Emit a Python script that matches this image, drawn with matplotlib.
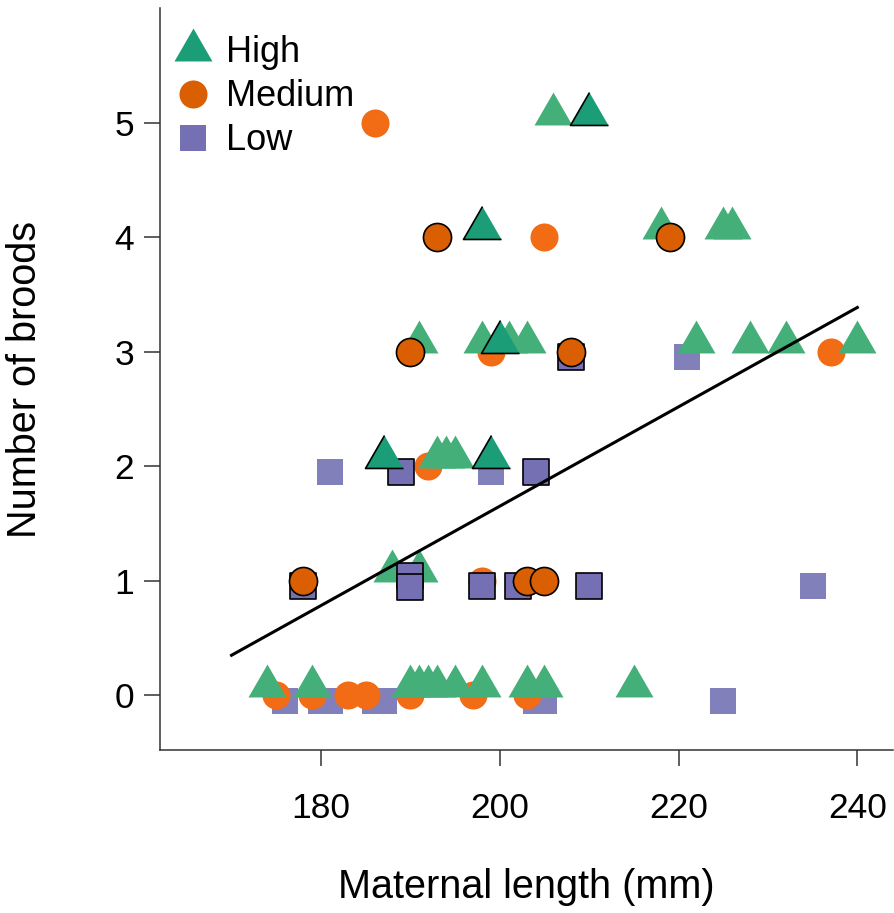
import numpy as np
import matplotlib
matplotlib.use("Agg")
import matplotlib.pyplot as plt
from matplotlib.lines import Line2D

plt.rcParams['font.family'] = ['Liberation Sans', 'DejaVu Sans']

# raw (faded) points: maternal length, number of broods (as plotted, with nudge)
high_x = [174, 179, 190, 191, 192, 193, 195, 198, 203, 205, 215,
          188, 191,
          193, 194, 195,
          191, 198, 201, 203, 222, 228, 232, 240,
          218, 225, 226,
          206]
high_y = [0.08] * 11 + [1.08] * 2 + [2.08] * 3 + [3.08] * 8 + [4.08] * 3 + [5.08]

med_x = [175, 179, 183, 185, 190, 197, 203,
         198,
         192,
         199, 237,
         205,
         186]
med_y = [0] * 7 + [1] + [2] + [3] * 2 + [4] + [5]

low_x = [176, 180, 181, 186, 187, 204, 205, 225,
         235,
         181, 199,
         221]
low_y = [-0.05] * 8 + [0.95] + [1.95] * 2 + [2.95]

# highlighted (outlined) points
high_x2 = [187, 199, 200, 198, 210]
high_y2 = [2.08, 2.08, 3.08, 4.08, 5.08]

med_x2 = [178, 203, 205, 190, 208, 193, 219]
med_y2 = [1, 1, 1, 3, 3, 4, 4]

low_x2 = [178, 190, 190, 198, 202, 210, 189, 204, 208]
low_y2 = [0.95, 1.04, 0.94, 0.95, 0.95, 0.95, 1.95, 1.95, 2.95]

# fitted line
fit_x = [170, 240]
fit_coef = [0.0434, -7.03]   # slope, intercept

groups = ["High", "Medium", "Low"]
dark = {"High": "#1B9E77", "Medium": "#D95F02", "Low": "#7570B3"}
light = {"High": "#44AF78", "Medium": "#F26B15", "Low": "#8280BB"}

tri = [(0, 1), (-0.866, -0.5), (0.866, -0.5)]
markers = {"High": tri, "Medium": "o", "Low": "s"}
msize = {"High": 31.6, "Medium": 20.2, "Low": 19.4}

fig = plt.figure(figsize=(8.94, 9.13), dpi=100)
ax = fig.add_axes([0.179, 0.1785, 0.82, 0.8125])

faded = {"High": (high_x, high_y), "Medium": (med_x, med_y), "Low": (low_x, low_y)}
bold = {"High": (high_x2, high_y2), "Medium": (med_x2, med_y2), "Low": (low_x2, low_y2)}

for g in ["Low", "Medium", "High"]:
    x, y = faded[g]
    ax.scatter(x, y, s=msize[g] ** 2, marker=markers[g], color=light[g],
               linewidths=0, zorder=2)
for g in ["Low", "Medium", "High"]:
    x, y = bold[g]
    ax.scatter(x, y, s=msize[g] ** 2, marker=markers[g], facecolor=dark[g],
               edgecolor="black", linewidths=1.2, zorder=3)

fx = np.array(fit_x)
ax.plot(fx, fit_coef[0] * fx + fit_coef[1], color="black", lw=2.2, zorder=4)

ax.set_xlim(162, 244)
ax.set_ylim(-0.48, 6.0)
ax.set_xticks([180, 200, 220, 240])
ax.set_yticks([0, 1, 2, 3, 4, 5])
for s in ["top", "right"]:
    ax.spines[s].set_visible(False)
for s in ["left", "bottom"]:
    ax.spines[s].set_linewidth(1.1)
    ax.spines[s].set_color("#333333")
ax.tick_params(axis="both", direction="out", length=11.5, width=1.1,
               color="#333333", labelsize=25.5)
ax.tick_params(axis="x", pad=19)
ax.tick_params(axis="y", pad=7)

ax.set_xlabel("Maternal length (mm)", fontsize=28.5)
ax.set_ylabel("Number of broods", fontsize=28.5)
ax.xaxis.set_label_coords(0.5, -0.159)
ax.yaxis.set_label_coords(-0.158, 0.5)

handles = [Line2D([], [], linestyle="none", marker=markers[g], color=dark[g],
                  markeredgewidth=0, markersize=msize[g]) for g in groups]
ax.legend(handles, groups, loc="upper left", bbox_to_anchor=(0.0, 0.988),
          frameon=False, fontsize=26, handletextpad=0.54, labelspacing=0.25,
          borderaxespad=0.1, handlelength=0.8)

fig.savefig("out.png", dpi=100)
